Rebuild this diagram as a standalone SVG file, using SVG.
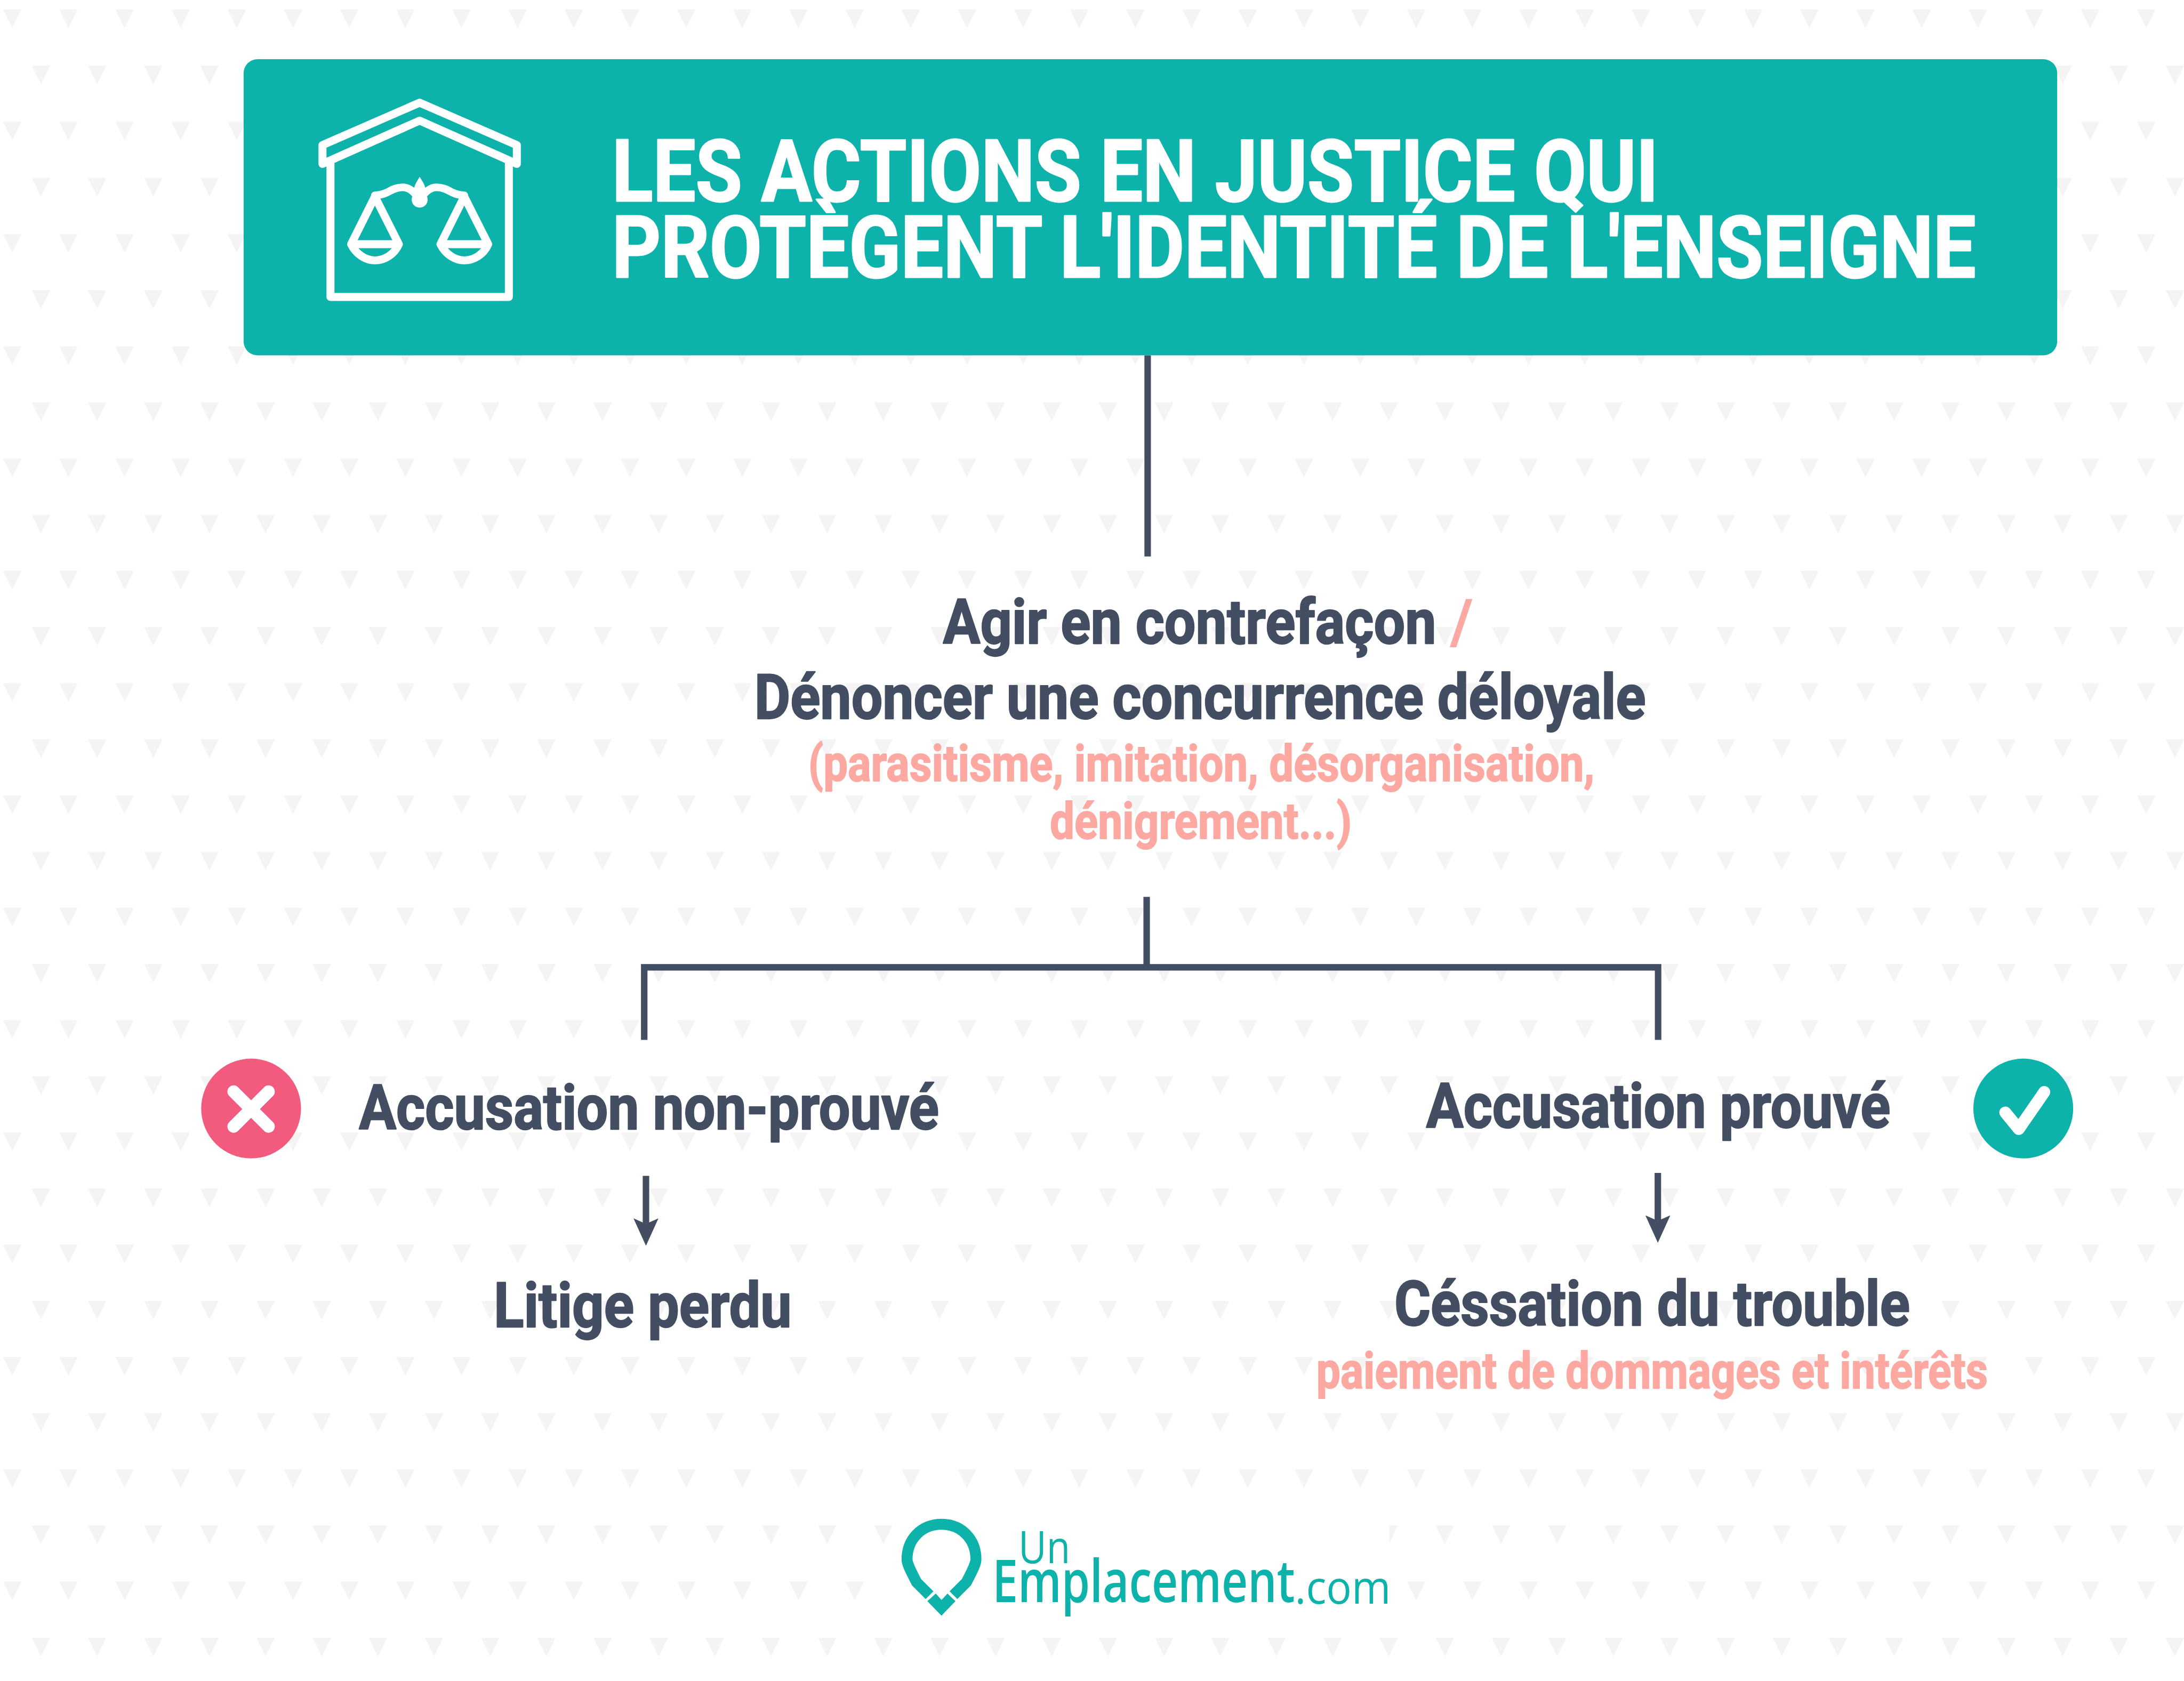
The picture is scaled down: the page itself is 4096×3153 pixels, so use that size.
<svg xmlns="http://www.w3.org/2000/svg" width="4096" height="3153" viewBox="0 0 4096 3153">
<style>
.t{font-family:"Roboto","Liberation Sans",sans-serif;font-weight:700;stroke-linejoin:round}
.d{fill:#434E63;font-size:124px;stroke:#434E63;stroke-width:2.500px}
.s{fill:#FDA9A2;font-size:100px;stroke:#FDA9A2;stroke-width:2px}
.w{fill:#fff;font-size:172px;stroke:#fff;stroke-width:3px}
.c{fill:none;stroke:#434E63;stroke-width:13}
.i{fill:none;stroke:#fff;stroke-width:48;stroke-linejoin:round;stroke-linecap:round}
.l{fill:#0DB2AA;font-family:"Open Sans","Liberation Sans",sans-serif}
</style>
<defs>
<pattern id="bg" patternUnits="userSpaceOnUse" width="112.5" height="225">
<path d="M6 19H43L24.500 56Z M63.500 131.500H100.500L82 168.500Z" fill="#F4F4F4"/>
</pattern>
<marker id="ah" markerUnits="userSpaceOnUse" markerWidth="55" markerHeight="50" refX="11" refY="25" orient="auto" viewBox="0 0 55 50"><path d="M0 0L11 25L0 50L55 25Z" fill="#434E63"/></marker>
</defs>
<g transform="scale(0.93623 0.93617)">
<rect width="4375" height="3368" fill="#fff"/>
<rect width="4375" height="3368" fill="url(#bg)"/>
<rect x="1790" y="3000" width="993" height="272" fill="#fff"/>
<g id="connectors">
<path class="c" d="M2299 712V1115"/>
<path class="c" d="M2297 1797V1938M1290.500 2083.500V1938H3321.500V2083.500"/>
<path d="M1294 2356V2452" class="c" marker-end="url(#ah)"/>
<path d="M3321 2350V2446" class="c" marker-end="url(#ah)"/>
</g>
<g id="title">
<rect x="488" y="118.500" width="3633" height="593.500" rx="28" fill="#0DB2AA"/>
<g transform="translate(600 170) scale(.33333)">
<path class="i" d="M138 475V362L722 107L1306 362V475M138 475L722 215L1306 475"/>
<path class="i" d="M186 460V1275H1258V460"/>
<g id="scale-pans" class="i">
<path d="M453 672L310 958M453 672L597 958M310 958H597M310 958C340 1020 400 1055 453 1055C510 1055 570 1020 597 958"/>
<path d="M990 672L847 958M990 672L1134 958M847 958H1134M847 958C877 1020 937 1055 990 1055C1047 1055 1107 1020 1134 958"/>
<path d="M453 664C530 664 550 616 620 616C670 616 700 660 722 690C744 660 774 616 824 616C894 616 914 664 990 664" stroke-width="46"/>
</g>
<circle cx="722" cy="690" r="48" fill="#fff"/>
<path d="M722 553C700 590 685 610 685 650H760C760 610 745 590 722 553Z" fill="#fff"/>
</g>
<text class="t w" x="1226" y="402.500" textLength="2096" lengthAdjust="spacingAndGlyphs">LES ACTIONS EN JUSTICE QUI</text>
<text class="t w" x="1226" y="556" textLength="2732" lengthAdjust="spacingAndGlyphs">PROTÈGENT L'IDENTITÉ DE L'ENSEIGNE</text>
</g>
<g id="node-action">
<text class="t d" x="1889" y="1289" textLength="988" lengthAdjust="spacingAndGlyphs">Agir en contrefaçon</text>
<text class="t s" x="2905" y="1289" style="font-size:124px;stroke-width:0">/</text>
<text class="t d" x="1511" y="1440" textLength="1786" lengthAdjust="spacingAndGlyphs">Dénoncer une concurrence déloyale</text>
<text class="t s" x="1619" y="1565" textLength="1575" lengthAdjust="spacingAndGlyphs">(parasitisme, imitation, désorganisation,</text>
<text class="t s" x="2103" y="1680" textLength="605" lengthAdjust="spacingAndGlyphs">dénigrement...)</text>
</g>
<g id="node-non-prouve">
<circle cx="503" cy="2221" r="100" fill="#F25B7D"/>
<path d="M468 2187L538 2257M538 2187L468 2257" stroke="#fff" stroke-width="25" stroke-linecap="round"/>
<text class="t d" x="719" y="2262" textLength="1162" lengthAdjust="spacingAndGlyphs">Accusation non-prouvé</text>
</g>
<g id="node-prouve">
<circle cx="4053" cy="2221" r="100" fill="#0DB2AA"/>
<path d="M4017 2229L4044 2262L4095 2188" fill="none" stroke="#fff" stroke-width="24" stroke-linecap="round" stroke-linejoin="round"/>
<text class="t d" x="2857" y="2259" textLength="930" lengthAdjust="spacingAndGlyphs">Accusation prouvé</text>
</g>
<g id="node-litige">
<text class="t d" x="989" y="2659" textLength="597" lengthAdjust="spacingAndGlyphs">Litige perdu</text>
</g>
<g id="node-cessation">
<text class="t d" x="2793" y="2655" textLength="1033" lengthAdjust="spacingAndGlyphs">Céssation du trouble</text>
<text class="t s" x="2637" y="2782" textLength="1345" lengthAdjust="spacingAndGlyphs">paiement de dommages et intérêts</text>
</g>
<g id="logo">
<path d="M1862 3196L1836 3170C1826 3150 1817 3135 1817 3124C1817 3085 1845 3054 1886 3054C1927 3054 1955 3085 1955 3124C1955 3135 1946 3150 1936 3170L1910 3196" fill="none" stroke="#0DB2AA" stroke-width="22"/>
<path d="M1874.500 3192.700L1886 3205.700L1898 3192.700L1914 3208L1886 3237L1857.700 3208Z" fill="#0DB2AA"/>
<text class="l" x="2040" y="3132" font-size="89" textLength="104" lengthAdjust="spacingAndGlyphs">Un</text>
<text class="l" x="1988" y="3210" font-size="119" font-weight="600" textLength="606" lengthAdjust="spacingAndGlyphs">Emplacement</text>
<text class="l" x="2594" y="3213" font-size="92" font-weight="500" textLength="192" lengthAdjust="spacingAndGlyphs">.com</text>
</g>
</g>
</svg>
